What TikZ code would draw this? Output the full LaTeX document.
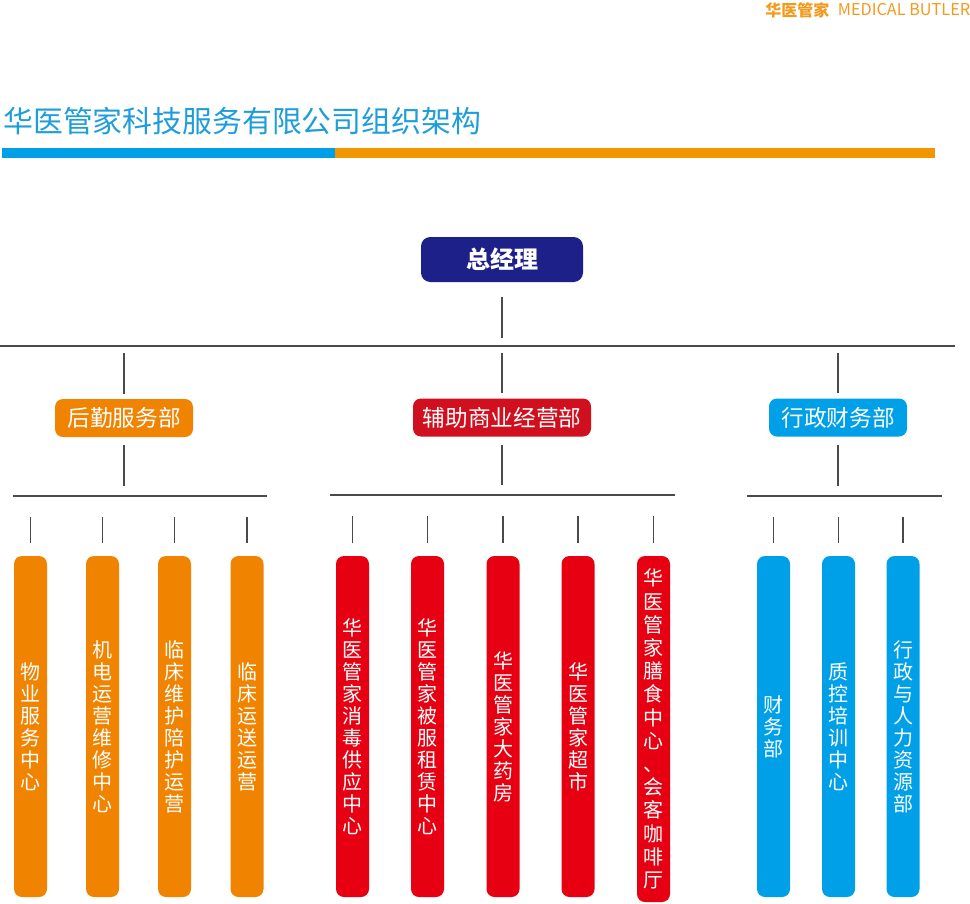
\documentclass[tikz,border=0pt]{standalone}
\usepackage{fontspec}
\setmainfont{Noto Sans CJK SC}
\usetikzlibrary{positioning,calc}

\definecolor{navy}{HTML}{1D2088}
\definecolor{hyorange}{HTML}{F08300}
\definecolor{hyred}{HTML}{E60012}
\definecolor{hyblue}{HTML}{00A0E9}
\definecolor{deptred}{HTML}{D0101E}
\definecolor{titleblue}{HTML}{1E9DDB}
\definecolor{barorange}{HTML}{F29600}
\definecolor{logoorange}{HTML}{F39A1E}
\definecolor{linegray}{HTML}{4A4A4A}

\def\px{0.75pt}

\tikzset{
  gmbox/.style={rounded corners=7pt, fill=navy, text=white, minimum width=162*\px, minimum height=45*\px, inner sep=0pt, font=\fontsize{18}{20}\selectfont\bfseries},
  deptbox/.style={rounded corners=6pt, text=white, minimum height=38*\px, inner sep=0pt, font=\fontsize{17}{20}\selectfont},
  colbox/.style={rounded corners=6pt, text=white, minimum width=33*\px, minimum height=341*\px, inner sep=0pt, align=center, font=\fontsize{15}{16.5}\selectfont},
  link/.style={draw=linegray, line width=0.8pt},
  bus/.style={draw=linegray, line width=1.1pt},
}

\begin{document}
\begin{tikzpicture}[x=0.75pt, y=-0.75pt]
  \useasboundingbox (0,0) rectangle (970,903);

  %logo and title
  \node[anchor=west, inner sep=0pt, text=logoorange, font=\fontsize{12}{12}\selectfont\bfseries] (logocn) at (765,10) {华医管家};
  \node[right=6pt of logocn, inner sep=0pt, text=logoorange, font=\fontsize{12.2}{12}\selectfont] (logoen) {MEDICAL BUTLER};
  \node[anchor=west, inner sep=0pt, text=titleblue, font=\fontsize{22.4}{22}\selectfont] (title) at (3,121) {华医管家科技服务有限公司组织架构};
  \fill[hyblue] (2,148) rectangle (335,157.5);
  \fill[barorange] (335,148) rectangle (935,157.5);

  %top
  \node[gmbox] (gm) at (502,259.5) {总经理};
  \coordinate (busL) at (0,346);
  \coordinate (busR) at (955,346);
  \draw[draw=linegray, line width=1.5pt] (busL) -- (busR);
  \draw[link, shorten <=11.25pt, shorten >=6pt] (gm) -- (gm |- busL);

  %departments
  \node[deptbox, fill=hyorange, minimum width=138*\px] (hq) at (124,418) {后勤服务部};
  \node[deptbox, fill=deptred, minimum width=178*\px] (biz) at (502,417.5) {辅助商业经营部};
  \node[deptbox, fill=hyblue, minimum width=138*\px] (adm) at (838,417.5) {行政财务部};

  \coordinate (obusL) at (13,496);   \coordinate (obusR) at (267,496);
  \coordinate (rbusL) at (330,495);  \coordinate (rbusR) at (675,495);
  \coordinate (bbusL) at (747,496);  \coordinate (bbusR) at (942,496);
  \draw[bus] (obusL) -- (obusR);
  \draw[bus] (rbusL) -- (rbusR);
  \draw[bus] (bbusL) -- (bbusR);

  \foreach \name/\gbus in {hq/obusL, biz/rbusL, adm/bbusL}{
    \draw[link, shorten <=3.75pt, shorten >=5.25pt] (\name) -- (\name |- busL);
    \draw[link, shorten <=6pt, shorten >=7.5pt] (\name) -- (\name |- \gbus);
  }

  %logistics
  \foreach \x/\txt/\name in {30.5/物\\业\\服\\务\\中\\心/o1, 102.5/机\\电\\运\\营\\维\\修\\中\\心/o2, 174.5/临\\床\\维\\护\\陪\\护\\运\\营/o3, 247/临\\床\\运\\送\\运\\营/o4}{
    \node[colbox, fill=hyorange] (\name) at (\x,726.5) {\txt};
    \draw[link, shorten <=9.75pt, shorten >=15.75pt] (\name) -- (\name |- obusL);
  }

  %business
  \foreach \x/\txt/\name in {352.5/华\\医\\管\\家\\消\\毒\\供\\应\\中\\心/r1, 427.5/华\\医\\管\\家\\被\\服\\租\\赁\\中\\心/r2, 503/华\\医\\管\\家\\大\\药\\房/r3, 578/华\\医\\管\\家\\超\\市/r4}{
    \node[colbox, fill=hyred] (\name) at (\x,726.5) {\txt};
    \draw[link, shorten <=9.75pt, shorten >=15.75pt] (\name) -- (\name |- rbusL);
  }
  \node[colbox, fill=hyred, minimum height=346*\px, font=\fontsize{15}{17.4}\selectfont] (r5) at (653.5,729) {华\\医\\管\\家\\膳\\食\\中\\心\\、\\会\\客\\咖\\啡\\厅};
  \draw[link, shorten <=9.75pt, shorten >=15.75pt] (r5) -- (r5 |- rbusL);

  %administration
  \foreach \x/\txt/\name in {773.5/财\\务\\部/b1, 838.5/质\\控\\培\\训\\中\\心/b2, 903/行\\政\\与\\人\\力\\资\\源\\部/b3}{
    \node[colbox, fill=hyblue] (\name) at (\x,726.5) {\txt};
    \draw[link, shorten <=9.75pt, shorten >=15.75pt] (\name) -- (\name |- bbusL);
  }

\end{tikzpicture}
\end{document}
